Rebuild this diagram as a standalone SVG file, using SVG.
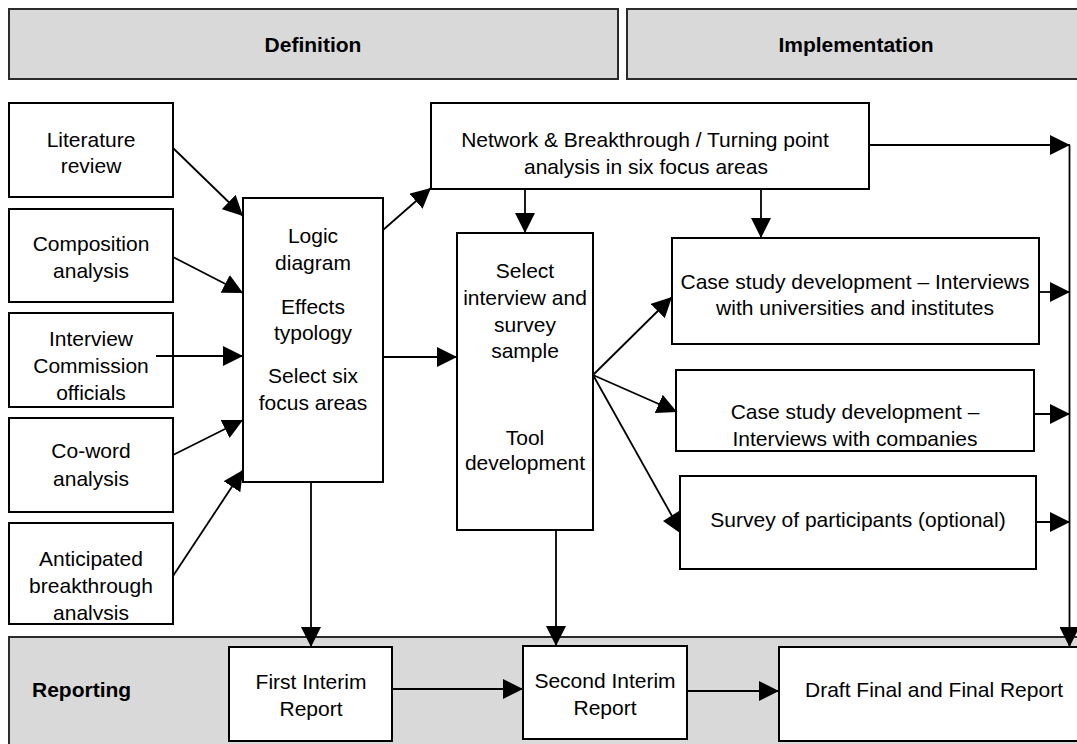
<svg xmlns="http://www.w3.org/2000/svg" width="1077" height="744" viewBox="0 0 1077 744">
<defs>
<style>
.band{fill:#d9d9d9;stroke:#2b2b2b;stroke-width:2}
.box{fill:#fff;stroke:#000;stroke-width:2}
.t{font-family:"Liberation Sans",Arial,sans-serif;font-size:21px;fill:#000;text-anchor:middle}
.b{font-weight:bold}
.l{text-anchor:start}
.c{stroke:#000;stroke-width:1.8;fill:none}
.ah{marker-end:url(#ah)}
</style>
<marker id="ah" markerUnits="userSpaceOnUse" markerWidth="20" markerHeight="20" refX="20" refY="10" orient="auto" viewBox="0 0 20 20"><path d="M0,0 L20,10 L0,20 z" fill="#000"/></marker>
<clipPath id="clipCase2"><rect x="676" y="370" width="358" height="76"/></clipPath>
<clipPath id="clipAnt"><rect x="9" y="523" width="164" height="97"/></clipPath>
</defs>
<rect width="1077" height="744" fill="#fff"/>

<g id="hdr-definition"><rect class="band" x="9" y="9" width="609" height="70"/><text class="t b" x="313" y="52">Definition</text></g>
<g id="hdr-implementation"><rect class="band" x="627" y="9" width="470" height="70"/><text class="t b" x="856" y="52">Implementation</text></g>
<g id="hdr-reporting"><rect class="band" x="9" y="637" width="1090" height="130"/><text class="t b l" x="32" y="697">Reporting</text></g>

<g id="literature"><rect class="box" x="9" y="103" width="164" height="94"/><text class="t" x="91" y="147">Literature</text><text class="t" x="91" y="173">review</text></g>
<g id="composition"><rect class="box" x="9" y="209" width="164" height="93"/><text class="t" x="91" y="251">Composition</text><text class="t" x="91" y="278">analysis</text></g>
<g id="interview"><rect class="box" x="9" y="313" width="164" height="94"/><text class="t" x="91" y="346">Interview</text><text class="t" x="91" y="373">Commission</text><text class="t" x="91" y="400">officials</text></g>
<g id="coword"><rect class="box" x="9" y="418" width="164" height="94"/><text class="t" x="91" y="458">Co-word</text><text class="t" x="91" y="486">analysis</text></g>
<g id="anticipated"><rect class="box" x="9" y="523" width="164" height="101"/><g clip-path="url(#clipAnt)"><text class="t" x="91" y="566">Anticipated</text><text class="t" x="91" y="593">breakthrough</text><text class="t" x="91" y="620">analysis</text></g></g>

<g id="logic"><rect class="box" x="243" y="198" width="140" height="284"/>
<text class="t" x="313" y="243">Logic</text><text class="t" x="313" y="270">diagram</text>
<text class="t" x="313" y="314">Effects</text><text class="t" x="313" y="340">typology</text>
<text class="t" x="313" y="383">Select six</text><text class="t" x="313" y="410">focus areas</text></g>

<g id="network"><rect class="box" x="431" y="103" width="438" height="86"/><text class="t" x="645" y="147">Network &amp; Breakthrough / Turning point</text><text class="t" x="646" y="174">analysis in six focus areas</text></g>

<g id="select"><rect class="box" x="457" y="233" width="136" height="297"/>
<text class="t" x="525" y="278">Select</text><text class="t" x="525" y="305">interview and</text><text class="t" x="525" y="332">survey</text><text class="t" x="525" y="358">sample</text>
<text class="t" x="525" y="445">Tool</text><text class="t" x="525" y="470">development</text></g>

<g id="case-universities"><rect class="box" x="672" y="238" width="367" height="106"/><text class="t" x="855" y="289">Case study development – Interviews</text><text class="t" x="855" y="315">with universities and institutes</text></g>
<g id="case-companies"><rect class="box" x="676" y="370" width="358" height="81"/><g clip-path="url(#clipCase2)"><text class="t" x="855" y="419">Case study development –</text><text class="t" x="855" y="446">Interviews with companies</text></g></g>
<g id="survey"><rect class="box" x="680" y="476" width="356" height="93"/><text class="t" x="858" y="527">Survey of participants (optional)</text></g>

<g id="first-interim"><rect class="box" x="229" y="647" width="163" height="94"/><text class="t" x="311" y="689">First Interim</text><text class="t" x="311" y="716">Report</text></g>
<g id="second-interim"><rect class="box" x="523" y="646" width="164" height="93"/><text class="t" x="605" y="688">Second Interim</text><text class="t" x="605" y="715">Report</text></g>
<g id="draft-final"><rect class="box" x="779" y="647" width="310" height="94"/><text class="t" x="934" y="697">Draft Final and Final Report</text></g>

<g id="connectors">
<path class="c ah" d="M173,148 L243,216"/>
<path class="c ah" d="M173,257 L243,293"/>
<path class="c ah" d="M156,356 L243,356"/>
<path class="c ah" d="M173,455 L243,420"/>
<path class="c ah" d="M173,576 L243,470"/>
<path class="c ah" d="M383,230 L431,188"/>
<path class="c ah" d="M383,357 L457,357"/>
<path class="c ah" d="M311,482 L311,647"/>
<path class="c ah" d="M525,189 L525,233"/>
<path class="c ah" d="M761,189 L761,238"/>
<path class="c ah" d="M869,145 L1070,145"/>
<path class="c ah" d="M1069.5,145 L1069.5,647"/>
<path class="c ah" d="M593,375 L672,297"/>
<path class="c ah" d="M593,375 L677,412"/>
<path class="c" d="M593,375 L672,516"/>
<polygon points="663,521 679,511 680,533" fill="#000"/>
<path class="c ah" d="M1039,292 L1070,292"/>
<path class="c ah" d="M1034,414 L1070,414"/>
<path class="c ah" d="M1036,522 L1070,522"/>
<path class="c ah" d="M556,530 L556,646"/>
<path class="c ah" d="M392,689 L523,689"/>
<path class="c ah" d="M687,691 L779,691"/>
</g>
</svg>
